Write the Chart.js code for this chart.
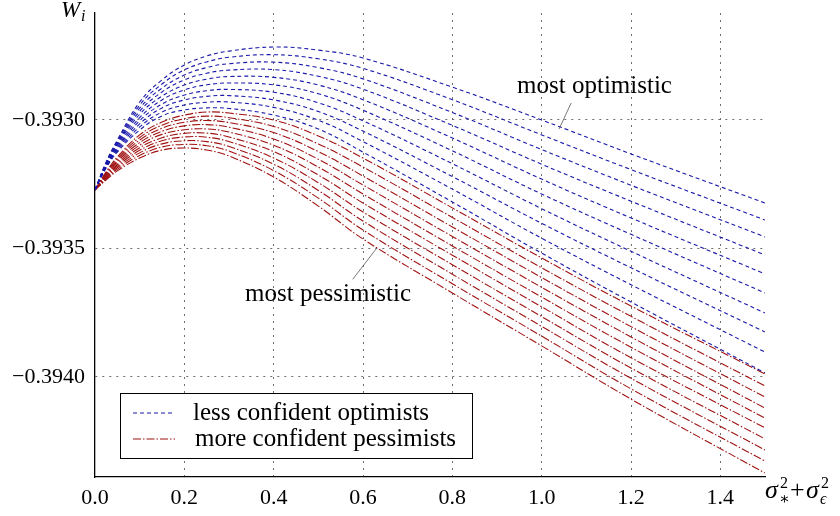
<!DOCTYPE html>
<html><head><meta charset="utf-8">
<script src="https://cdn.jsdelivr.net/npm/chart.js@4"></script>
<style>html,body{margin:0;padding:0;background:#fff;}#wrap{width:840px;height:516px;}</style>
</head><body><div id="wrap"><canvas id="c" width="840" height="516"></canvas></div>
<script>
// x = sigma*^2 + sigma_eps^2
const xValues = [0, 0.025, 0.05, 0.1, 0.15, 0.2, 0.25, 0.3, 0.4, 0.5, 0.6, 0.8, 1.0, 1.2, 1.5];

// less confident optimists (blue dashed), from most optimistic downward
const optimist1  = [-0.393272,-0.393163,-0.393078,-0.392930,-0.392844,-0.392786,-0.392751,-0.392732,-0.392716,-0.392728,-0.392759,-0.392872,-0.393000,-0.393132,-0.393323];
const optimist2  = [-0.393272,-0.393166,-0.393083,-0.392942,-0.392860,-0.392805,-0.392774,-0.392756,-0.392746,-0.392762,-0.392799,-0.392921,-0.393058,-0.393193,-0.393389];
const optimist3  = [-0.393272,-0.393169,-0.393088,-0.392954,-0.392876,-0.392825,-0.392796,-0.392781,-0.392775,-0.392796,-0.392840,-0.392971,-0.393115,-0.393254,-0.393455];
const optimist4  = [-0.393272,-0.393171,-0.393093,-0.392966,-0.392891,-0.392844,-0.392818,-0.392806,-0.392804,-0.392830,-0.392880,-0.393021,-0.393172,-0.393316,-0.393525];
const optimist5  = [-0.393272,-0.393174,-0.393098,-0.392978,-0.392907,-0.392864,-0.392841,-0.392831,-0.392834,-0.392864,-0.392921,-0.393070,-0.393230,-0.393381,-0.393599];
const optimist6  = [-0.393272,-0.393176,-0.393104,-0.392991,-0.392922,-0.392883,-0.392863,-0.392856,-0.392863,-0.392898,-0.392962,-0.393120,-0.393288,-0.393445,-0.393673];
const optimist7  = [-0.393272,-0.393179,-0.393109,-0.393003,-0.392938,-0.392903,-0.392886,-0.392881,-0.392892,-0.392933,-0.393003,-0.393170,-0.393345,-0.393511,-0.393751];
const optimist8  = [-0.393272,-0.393182,-0.393114,-0.393015,-0.392953,-0.392922,-0.392908,-0.392905,-0.392922,-0.392967,-0.393043,-0.393220,-0.393402,-0.393575,-0.393825];
const optimist9  = [-0.393272,-0.393184,-0.393120,-0.393027,-0.392969,-0.392942,-0.392931,-0.392930,-0.392951,-0.393001,-0.393084,-0.393269,-0.393460,-0.393641,-0.393903];
const optimist10 = [-0.393272,-0.393187,-0.393125,-0.393039,-0.392984,-0.392961,-0.392953,-0.392955,-0.392981,-0.393035,-0.393125,-0.393319,-0.393518,-0.393708,-0.393984];

// more confident pessimists (red dash-dot), from top downward to most pessimistic
const pessimist1  = [-0.393272,-0.393202,-0.393144,-0.393058,-0.393008,-0.392981,-0.392969,-0.392973,-0.393000,-0.393062,-0.393148,-0.393342,-0.393537,-0.393724,-0.393988];
const pessimist2  = [-0.393272,-0.393206,-0.393150,-0.393068,-0.393020,-0.392995,-0.392985,-0.392991,-0.393025,-0.393093,-0.393183,-0.393379,-0.393575,-0.393764,-0.394035];
const pessimist3  = [-0.393272,-0.393209,-0.393156,-0.393078,-0.393032,-0.393009,-0.393002,-0.393010,-0.393049,-0.393123,-0.393218,-0.393416,-0.393613,-0.393804,-0.394078];
const pessimist4  = [-0.393272,-0.393213,-0.393162,-0.393088,-0.393044,-0.393023,-0.393018,-0.393028,-0.393074,-0.393153,-0.393253,-0.393453,-0.393651,-0.393844,-0.394121];
const pessimist5  = [-0.393272,-0.393216,-0.393168,-0.393098,-0.393056,-0.393038,-0.393035,-0.393047,-0.393098,-0.393183,-0.393288,-0.393490,-0.393689,-0.393884,-0.394160];
const pessimist6  = [-0.393272,-0.393220,-0.393174,-0.393108,-0.393069,-0.393052,-0.393051,-0.393066,-0.393123,-0.393214,-0.393323,-0.393526,-0.393727,-0.393925,-0.394198];
const pessimist7  = [-0.393272,-0.393223,-0.393180,-0.393118,-0.393081,-0.393066,-0.393067,-0.393084,-0.393148,-0.393244,-0.393358,-0.393563,-0.393765,-0.393965,-0.394241];
const pessimist8  = [-0.393272,-0.393226,-0.393186,-0.393128,-0.393093,-0.393081,-0.393084,-0.393103,-0.393172,-0.393274,-0.393393,-0.393600,-0.393803,-0.394005,-0.394284];
const pessimist9  = [-0.393272,-0.393230,-0.393192,-0.393138,-0.393105,-0.393095,-0.393100,-0.393121,-0.393197,-0.393304,-0.393428,-0.393637,-0.393841,-0.394046,-0.394327];
const pessimist10 = [-0.393272,-0.393233,-0.393198,-0.393148,-0.393117,-0.393109,-0.393117,-0.393140,-0.393222,-0.393335,-0.393463,-0.393673,-0.393879,-0.394086,-0.394374];

const optimistSeries = [optimist1,optimist2,optimist3,optimist4,optimist5,optimist6,optimist7,optimist8,optimist9,optimist10];
const pessimistSeries = [pessimist1,pessimist2,pessimist3,pessimist4,pessimist5,pessimist6,pessimist7,pessimist8,pessimist9,pessimist10];

const xTicks = [0, 0.2, 0.4, 0.6, 0.8, 1.0, 1.2, 1.4];
const yTicks = [-0.3940, -0.3935, -0.3930];
const legendLabels = ['less confident optimists', 'more confident pessimists'];
const noteTexts = ['most optimistic', 'most pessimistic'];
// anchor positions (data units): text left/baseline, leader line start, leader line end
const noteText1 = {x: 0.945, y: -0.392895};
const noteLine1 = [{x: 1.066, y: -0.392934}, {x: 1.039, y: -0.393035}];
const noteText2 = {x: 0.336, y: -0.393704};
const noteLine2 = [{x: 0.577, y: -0.393620}, {x: 0.631, y: -0.393498}];

const BLUE = 'rgb(25,25,170)';
const RED = 'rgb(160,18,18)';
const BLUE_DASH = [4, 3];
const RED_DASH = [8, 2, 1.5, 2];
const SERIF = '"Liberation Serif", "DejaVu Serif", serif';

const toPts = arr => arr.map((v, i) => ({x: xValues[i], y: v}));
const datasets = [];
optimistSeries.forEach(s => datasets.push({
  label: legendLabels[0], data: toPts(s), borderColor: BLUE, borderWidth: 1.1,
  borderDash: BLUE_DASH, pointRadius: 0, fill: false, tension: 0.4
}));
pessimistSeries.forEach(s => datasets.push({
  label: legendLabels[1], data: toPts(s), borderColor: RED, borderWidth: 1.1,
  borderDash: RED_DASH, pointRadius: 0, fill: false, tension: 0.4
}));

const decor = {
  id: 'decor',
  afterDraw(chart) {
    const {ctx, chartArea: ca, scales: {x, y}} = chart;
    ctx.save();
    ctx.fillStyle = '#000';
    ctx.textBaseline = 'alphabetic';
    ctx.textAlign = 'left';
    // annotations
    ctx.font = '25px ' + SERIF;
    ctx.fillText(noteTexts[0], x.getPixelForValue(noteText1.x), y.getPixelForValue(noteText1.y));
    ctx.fillText(noteTexts[1], x.getPixelForValue(noteText2.x), y.getPixelForValue(noteText2.y));
    ctx.strokeStyle = '#555';
    ctx.lineWidth = 0.8;
    [noteLine1, noteLine2].forEach(l => {
      ctx.beginPath();
      ctx.moveTo(x.getPixelForValue(l[0].x), y.getPixelForValue(l[0].y));
      ctx.lineTo(x.getPixelForValue(l[1].x), y.getPixelForValue(l[1].y));
      ctx.stroke();
    });
    // legend box
    const lx = ca.left + 25, ly = ca.bottom - 84, lw = 352, lh = 65;
    ctx.fillStyle = '#fff';
    ctx.fillRect(lx, ly, lw, lh);
    ctx.strokeStyle = '#000';
    ctx.lineWidth = 1;
    ctx.strokeRect(lx + 0.5, ly + 0.5, lw, lh);
    const rows = [{c: BLUE, d: BLUE_DASH, yy: ly + 20}, {c: RED, d: RED_DASH, yy: ly + 46}];
    rows.forEach((r, i) => {
      ctx.strokeStyle = r.c; ctx.setLineDash(r.d); ctx.lineWidth = 1.2;
      ctx.beginPath(); ctx.moveTo(lx + 13, r.yy); ctx.lineTo(lx + 55, r.yy); ctx.stroke();
      ctx.setLineDash([]);
      ctx.fillStyle = '#000';
      ctx.font = '25px ' + SERIF;
      ctx.fillText(legendLabels[i], lx + 73 + (i ? 2 : 0), r.yy + 7);
    });
    // y axis title W_i
    ctx.font = 'italic 23px ' + SERIF;
    ctx.fillText('W', ca.left - 34, ca.top + 4);
    ctx.font = 'italic 16px ' + SERIF;
    ctx.fillText('i', ca.left - 14, ca.top + 8);
    // x axis title sigma*^2 + sigma_eps^2
    const bx = ca.right + 0, by = ca.bottom + 21;
    ctx.font = 'italic 26px ' + SERIF;
    ctx.fillText('σ', bx, by);
    ctx.font = '16px ' + SERIF;
    ctx.fillText('2', bx + 15, by - 10);
    ctx.fillText('∗', bx + 14, by + 6);
    ctx.font = '26px ' + SERIF;
    ctx.fillText('+', bx + 25, by);
    ctx.font = 'italic 26px ' + SERIF;
    ctx.fillText('σ', bx + 41, by);
    ctx.font = '16px ' + SERIF;
    ctx.fillText('2', bx + 56, by - 10);
    ctx.font = 'italic 16px ' + SERIF;
    ctx.fillText('ϵ', bx + 55, by + 6);
    ctx.restore();
  }
};

new Chart(document.getElementById('c'), {
  type: 'line',
  data: {datasets},
  options: {
    responsive: false, animation: false, devicePixelRatio: 1,
    layout: {padding: {left: 0, top: 13, right: 75, bottom: 0}},
    plugins: {legend: {display: false}, tooltip: {enabled: false}},
    scales: {
      x: {
        type: 'linear', min: 0, max: 1.5,
        afterBuildTicks: s => { s.ticks = xTicks.map(v => ({value: v})); },
        afterFit: s => { s.height = 39; s.paddingLeft = 0; s.paddingRight = 0; },
        ticks: {callback: v => v.toFixed(1), color: '#000', font: {family: SERIF, size: 22}, padding: 8, maxRotation: 0, autoSkip: false},
        grid: {drawTicks: false, color: c => (c.tick && c.tick.value === 0) ? 'rgba(0,0,0,0)' : '#6e6e6e', lineWidth: 1},
        border: {display: true, color: '#000', width: 1.3, dash: [2, 5]}
      },
      y: {
        type: 'linear', min: -0.3943891, max: -0.3925837,
        afterBuildTicks: s => { s.ticks = yTicks.map(v => ({value: v})); },
        afterFit: s => { s.width = 95; s.paddingTop = 0; s.paddingBottom = 0; },
        ticks: {callback: v => '\u2212' + Math.abs(v).toFixed(4), color: '#000', font: {family: SERIF, size: 22}, padding: 10},
        grid: {drawTicks: false, color: '#6e6e6e', lineWidth: 1},
        border: {display: true, color: '#000', width: 1.3, dash: [2, 5]}
      }
    }
  },
  plugins: [decor]
});
</script></body></html>
